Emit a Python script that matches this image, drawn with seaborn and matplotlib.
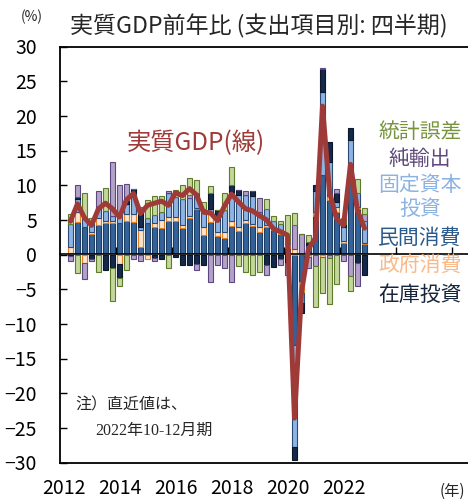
import numpy as np
import pandas as pd
import matplotlib.pyplot as plt
import seaborn as sns

sns.set_theme(style="white")
plt.rcParams['font.family'] = ['Noto Sans CJK JP', 'DejaVu Sans']

# -------------------------------
# Data: contributions to real GDP growth (% y/y), 2012Q2 - 2022Q4
# slot 0 = 2012Q1 (no data), slot 1 = 2012Q2 ...
# -------------------------------
quarter = list(range(1, 44))

private_cons = [0.2, 4.7, 4.0, 3.0, 4.3, 4.5, 4.5, 4.5, 4.8, 4.7,
                1.1, 4.5, 4.0, 3.8, 4.8, 4.8, 3.8, 5.2, 6.5, 2.8,
                4.7, 2.6, 2.4, 4.1, 3.4, 4.5, 4.1, 3.3, 4.0, 3.5,
                3.0, 1.0, -13.0, -4.0, 0.5, 5.5, 11.5, 7.8, 6.2, 1.6,
                10.5, 6.5, 1.5]
gov_cons = [0.9, 1.4, -1.2, 0.3, 1.0, 0.3, 0.3, -1.4, 1.0, 1.2,
            2.4, -0.7, 0.5, 1.2, 0.6, 0.6, 0.4, 0.3, 0.2, 1.2,
            1.2, 0.7, 0.9, 0.7, 0.6, 0.5, 0.3, 0.7, 0.3, 0.3,
            0.6, 0.5, 0.8, -1.5, -0.3, 0.6, -0.3, 0.6, 0.6, 0.3,
            0.5, 0.3, 0.2]
fixed_inv = [3.3, 1.9, 1.2, 1.5, 1.2, 1.5, 0.7, 1.0, 1.5, 2.9,
             0.5, 0.7, 1.2, 1.2, 3.4, 2.9, 3.8, 2.6, 2.1, 2.6,
             0.7, 1.7, 3.1, 4.2, 4.6, 3.6, 4.0, 2.1, 2.3, 1.0,
             0.8, 0.2, -14.7, -1.5, 0.8, 3.0, 12.0, 4.9, 0.8, 2.0,
             5.5, 2.0, 3.2]
inventory = [-0.2, 0.3, 0.0, -0.6, 0.4, -2.2, -2.0, -2.0, 0.5, 0.7,
             2.4, 0.0, -0.5, -0.7, 0.0, -0.4, -1.5, -1.5, -1.4, -1.5,
             2.3, 1.4, 0.0, 1.0, 0.7, 0.0, 0.8, 0.0, -1.5, -1.8,
             -0.6, -1.2, -1.9, -1.4, 0.5, 0.9, 3.2, 2.9, 1.2, 0.5,
             1.8, -1.2, -2.9]
net_exports = [-0.8, 1.7, -2.4, -0.4, 2.2, 0.0, 7.8, 4.5, 2.3, -0.7,
               -1.0, 0.0, -0.5, 0.0, 0.3, 0.0, 0.0, 0.5, -0.8, 0.0,
               -3.9, -1.5, -1.9, -3.9, 0.0, 0.5, 0.0, 2.0, -1.5, 0.0,
               -0.9, -1.7, 3.5, 3.0, -1.7, -1.7, 0.2, -0.5, 0.7, -1.0,
               -3.1, -3.4, 0.9]
stat_disc = [1.4, -2.7, 3.7, 0.4, -2.5, 3.3, -4.7, -1.2, -2.2, 0.0,
             0.5, 2.6, 2.7, 2.2, -2.0, 1.0, 2.0, 2.4, 2.0, 1.0,
             1.0, 0.0, 2.5, 2.6, -1.7, -2.5, -2.9, -2.5, 1.4, 0.7,
             0.4, 4.0, 1.7, 0.0, 1.0, -5.9, -5.2, -6.7, -4.3, 0.8,
             -2.2, 2.1, 0.9]
real_gdp = [4.8, 7.3, 5.3, 4.2, 6.6, 7.4, 6.6, 5.4, 7.9, 8.8,
            5.9, 7.1, 7.4, 7.7, 7.1, 8.9, 8.5, 9.5, 8.6, 6.1,
            6.0, 4.9, 7.0, 8.7, 7.6, 6.6, 6.3, 5.6, 5.0, 3.7,
            3.3, 2.8, -23.6, -5.4, 0.8, 2.4, 21.4, 9.0, 5.2, 4.2,
            13.0, 6.3, 3.8]

year_labels = ['2012', '2014', '2016', '2018', '2020', '2022']
year_pos = [0, 8, 16, 24, 32, 40]
boundary_ticks = [7.5, 15.5, 23.5, 31.5, 39.5, 47.5, 55.5]

# stacking order (bottom -> top), fill, edge, label colour, label y (px)
series = [
    ('民間消費', private_cons, '#33639a', '#1c3c62', '#2a5a8c', 238),
    ('政府消費', gov_cons, '#fde4cc', '#e37d22', '#f9b98a', 265),
    ('固定資本\n投資', fixed_inv, '#8db4e2', '#2a4a78', '#8db3e2', 197),
    ('在庫投資', inventory, '#14294b', '#0b1628', '#16253b', 295),
    ('純輸出', net_exports, '#b3a2c7', '#5d4783', '#5f497a', 159),
    ('統計誤差', stat_disc, '#c4d79b', '#5e7b2c', '#77933c', 132),
]

# -------------------------------
# Figure
# -------------------------------
W, H = 468, 501
fig = plt.figure(figsize=(W / 100, H / 100), dpi=100)
ax = fig.add_axes([59.7 / W, 38.5 / H, 410.3 / W, 416 / H])

pos_base = np.zeros(len(quarter))
neg_base = np.zeros(len(quarter))
for name, vals, fc, ec, tc, ty in series:
    v = np.array(vals)
    bottom = np.where(v >= 0, pos_base, neg_base)
    sns.barplot(x=quarter, y=v, bottom=bottom, native_scale=True, width=0.8,
                color=fc, edgecolor=ec, linewidth=0.8, saturation=1,
                errorbar=None, ax=ax)
    pos_base += np.where(v > 0, v, 0)
    neg_base += np.where(v < 0, v, 0)

sns.lineplot(x=quarter, y=real_gdp, color='#9e3a38', lw=3.6, ax=ax, zorder=3)

# axes styling
ax.set_xlim(-0.54, 58.07)
ax.set_ylim(-30, 30)
ax.set_yticks(range(-30, 31, 5))
ax.set_xticks(year_pos, year_labels)
ax.tick_params(axis='y', direction='in', length=5, width=1, pad=16.5,
               labelsize=14, colors='black', left=True)
ax.tick_params(axis='x', length=0, pad=11, labelsize=14, colors='black')
for s in ['top', 'left', 'bottom']:
    ax.spines[s].set_color('black')
    ax.spines[s].set_linewidth(1.3)
ax.spines['right'].set_visible(False)
ax.set_xlabel('')
ax.set_ylabel('')

# zero line with year boundary ticks
zero_ax = ax.secondary_xaxis(0.5)
zero_ax.set_xticks(boundary_ticks)
zero_ax.tick_params(axis='x', direction='out', length=5, width=1,
                    labeltop=False, labelbottom=False, colors='black')
for s in ['top', 'bottom']:
    zero_ax.spines[s].set_color('black')
    zero_ax.spines[s].set_linewidth(1.2)
zero_ax.set_zorder(1.5)

# -------------------------------
# Texts
# -------------------------------
def ftext(x, y, s, **kw):
    fig.text(x / W, 1 - y / H, s, **kw)

ftext(70, 26, '実質GDP前年比 (支出項目別: 四半期)', fontsize=16.6, va='center', ha='left')
ftext(32, 17, '(%)', fontsize=10, va='center', ha='center')
ftext(452, 491, '(年)', fontsize=11, va='center', ha='center')

for name, vals, fc, ec, tc, ty in series:
    ftext(420, ty, name, fontsize=15, color=tc, va='center', ha='center',
          linespacing=1.15)

ftext(196, 143, '実質GDP(線)', fontsize=17.5, color='#9e3a38', va='center', ha='center')
ftext(75, 405, '注）直近値は、', fontsize=11.5, va='center', ha='left')
ftext(95, 431, '2022年10-12月期', fontsize=11.5, va='center', ha='left',
      family=['Liberation Serif', 'Noto Sans CJK JP'])

fig.savefig('out.png', dpi=100, facecolor='white')
